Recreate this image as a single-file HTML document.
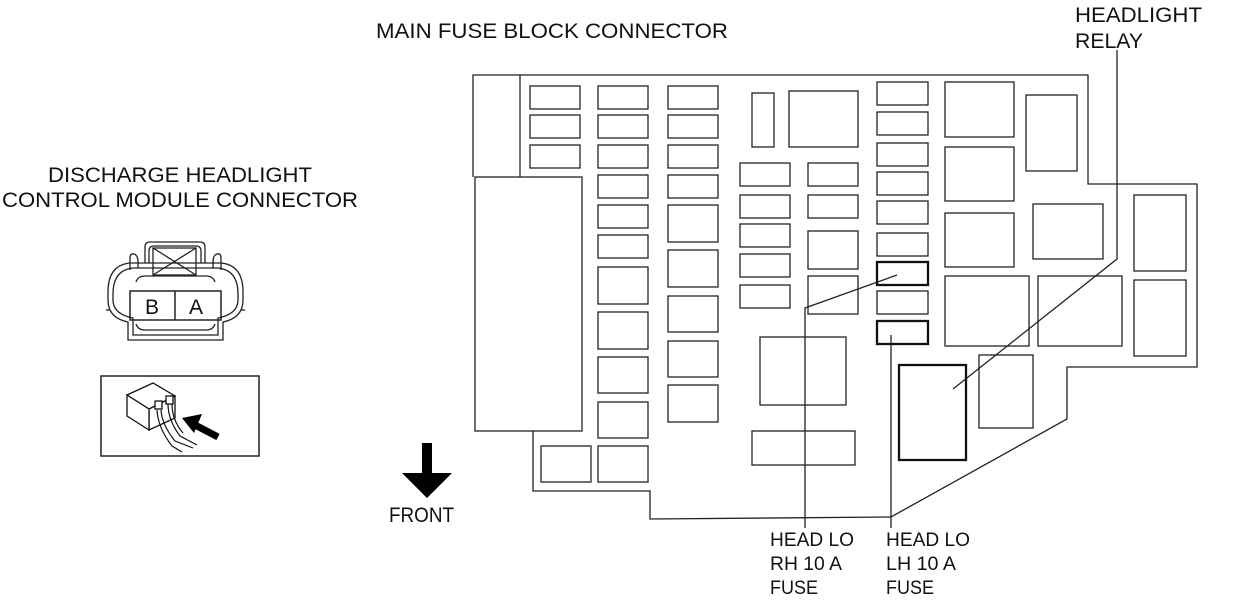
<!DOCTYPE html>
<html><head><meta charset="utf-8"><style>
html,body{margin:0;padding:0;background:#fff;}
svg{display:block;}
text{font-family:"Liberation Sans",sans-serif;fill:#111;}
</style></head><body>
<svg width="1242" height="601" viewBox="0 0 1242 601" xmlns="http://www.w3.org/2000/svg">
<g font-size="21">
<text x="376" y="38" textLength="352" lengthAdjust="spacingAndGlyphs">MAIN FUSE BLOCK CONNECTOR</text>
<text x="1075" y="22" textLength="127" lengthAdjust="spacingAndGlyphs">HEADLIGHT</text>
<text x="1075" y="48" textLength="68" lengthAdjust="spacingAndGlyphs">RELAY</text>
<text x="48" y="182" textLength="264" lengthAdjust="spacingAndGlyphs">DISCHARGE HEADLIGHT</text>
<text x="2" y="207" textLength="356" lengthAdjust="spacingAndGlyphs">CONTROL MODULE CONNECTOR</text>
<text x="389" y="522" textLength="65" lengthAdjust="spacingAndGlyphs">FRONT</text>
</g>
<g font-size="19">
<text x="770" y="546" textLength="84" lengthAdjust="spacingAndGlyphs">HEAD LO</text>
<text x="770" y="570" textLength="72" lengthAdjust="spacingAndGlyphs">RH 10 A</text>
<text x="770" y="594" textLength="48" lengthAdjust="spacingAndGlyphs">FUSE</text>
<text x="886" y="546" textLength="84" lengthAdjust="spacingAndGlyphs">HEAD LO</text>
<text x="886" y="570" textLength="70" lengthAdjust="spacingAndGlyphs">LH 10 A</text>
<text x="886" y="594" textLength="48" lengthAdjust="spacingAndGlyphs">FUSE</text>
</g>
<polygon points="422,443 432,443 432,473 452,473 427,498 402,473 422,473" fill="#000"/>
<g fill="none" stroke="#222" stroke-width="1.3">
<polyline points="473,177 473,75 1088,75 1088,184 1197,184 1197,367 1067,367 1067,419 891,517 650,519 650,491 533,491 533,431"/>
<line x1="520" y1="75" x2="520" y2="177"/>
<rect x="475" y="177" width="107" height="254"/>
<rect x="530" y="86" width="50" height="23"/><rect x="530" y="115" width="50" height="23"/><rect x="530" y="145" width="50" height="23"/>
<rect x="598" y="86" width="50" height="23"/><rect x="598" y="115" width="50" height="23"/><rect x="598" y="145" width="50" height="23"/>
<rect x="598" y="175" width="50" height="23"/><rect x="598" y="205" width="50" height="23"/><rect x="598" y="235" width="50" height="23"/>
<rect x="598" y="267" width="50" height="37"/><rect x="598" y="312" width="50" height="37"/><rect x="598" y="357" width="50" height="36"/>
<rect x="598" y="402" width="50" height="36"/><rect x="598" y="446" width="50" height="36"/>
<rect x="541" y="446" width="50" height="36"/>
<rect x="668" y="86" width="50" height="23"/><rect x="668" y="115" width="50" height="23"/><rect x="668" y="145" width="50" height="23"/>
<rect x="668" y="175" width="50" height="23"/><rect x="668" y="205" width="50" height="37"/><rect x="668" y="250" width="50" height="37"/>
<rect x="668" y="296" width="50" height="36"/><rect x="668" y="341" width="50" height="36"/><rect x="668" y="385" width="50" height="37"/>
<rect x="752" y="93" width="22" height="54"/><rect x="789" y="91" width="69" height="56"/>
<rect x="740" y="163" width="50" height="23"/><rect x="740" y="195" width="50" height="23"/><rect x="740" y="224" width="50" height="23"/>
<rect x="740" y="254" width="50" height="23"/><rect x="740" y="285" width="50" height="23"/>
<rect x="808" y="163" width="50" height="23"/><rect x="808" y="195" width="50" height="23"/><rect x="808" y="231" width="50" height="38"/>
<rect x="808" y="276" width="50" height="38"/>
<rect x="760" y="337" width="86" height="68"/><rect x="752" y="431" width="103" height="34"/>
<rect x="877" y="82" width="51" height="23"/><rect x="877" y="112" width="51" height="23"/><rect x="877" y="143" width="51" height="23"/>
<rect x="877" y="172" width="51" height="23"/><rect x="877" y="201" width="51" height="23"/><rect x="877" y="233" width="51" height="23"/>
<rect x="877" y="291" width="51" height="23"/>
<rect x="945" y="82" width="69" height="55"/><rect x="945" y="147" width="69" height="54"/><rect x="945" y="213" width="69" height="54"/>
<rect x="1026" y="95" width="51" height="76"/><rect x="1033" y="204" width="70" height="55"/>
<rect x="945" y="276" width="84" height="70"/><rect x="1038" y="276" width="84" height="70"/>
<rect x="1134" y="195" width="52" height="76"/><rect x="1134" y="280" width="52" height="76"/>
<rect x="979" y="355" width="54" height="73"/>
<polyline points="805,528 805,308 897,275"/>
<polyline points="891,528 891,335"/>
<polyline points="1117,50 1117,259 953,389"/>
</g>
<g fill="none" stroke="#111" stroke-width="2.3">
<rect x="877" y="262" width="51" height="23"/><rect x="877" y="321" width="51" height="23"/>
<rect x="899" y="365" width="67" height="95"/>
</g>
<g fill="none" stroke="#222" stroke-width="1.3">
<path d="M145,263 L145,247 Q145,242 150,242 L200,242 Q205,242 205,247 L205,263"/>
<path d="M149,263 L149,251 Q149,246 154,246 L196,246 Q201,246 201,251 L201,263"/>
<rect x="153" y="248" width="43" height="27"/>
<line x1="153" y1="248" x2="196" y2="275"/><line x1="196" y1="248" x2="153" y2="275"/>
<path d="M130,270 L130,258 Q130,253 134,254 Q138,255 138,262 L138,268"/>
<path d="M221,270 L221,258 Q221,253 217,254 Q213,255 213,262 L213,268"/>
<path d="M128,340 L128,322 Q108,318 108,300 L108,292 Q108,265 130,263 L221,263 Q243,265 243,292 L243,300 Q243,318 223,322 L223,340 Z"/>
<path d="M133,335 L133,318 Q113,314 113,300 L113,294 Q113,270 133,268 L218,268 Q238,270 238,294 L238,300 Q238,314 218,318 L218,335 Z"/>
<path d="M136,282 Q138,276 145,276 L206,276 Q213,276 215,282"/>
<path d="M136,324 Q138,330 145,330 L206,330 Q213,330 215,324"/>
<rect x="130" y="291" width="91" height="29" stroke-width="1.5"/>
<line x1="175" y1="291" x2="175" y2="320" stroke-width="1.5"/>
<line x1="110" y1="310" x2="106" y2="310"/><line x1="241" y1="310" x2="245" y2="310"/>
</g>
<text x="145" y="314" font-size="21">B</text>
<text x="189" y="314" font-size="21">A</text>
<rect x="101" y="376" width="158" height="80" fill="none" stroke="#222" stroke-width="1.5"/>
<g fill="#fff" stroke="#111" stroke-width="1.3">
<polygon points="127,395 153,383 175,396 149,409"/>
<polygon points="149,409 175,396 175,418 149,430"/>
<polygon points="127,395 149,409 149,430 127,416"/>
<rect x="155" y="401" width="7" height="8"/><rect x="166" y="396" width="7" height="8"/>
</g>
<g fill="none" stroke="#111" stroke-width="1.2">
<path d="M157,410 Q158,428 172,446 L182,452"/>
<path d="M161,410 Q162,425 175,441 L193,448"/>
<path d="M168,404 Q168,420 180,436 L197,445"/>
<path d="M172,404 Q172,420 183,433"/>
</g>
<line x1="218" y1="437" x2="195" y2="425" stroke="#000" stroke-width="7"/>
<polygon points="182,418 202,414 194,433" fill="#000"/>
</svg>
</body></html>
